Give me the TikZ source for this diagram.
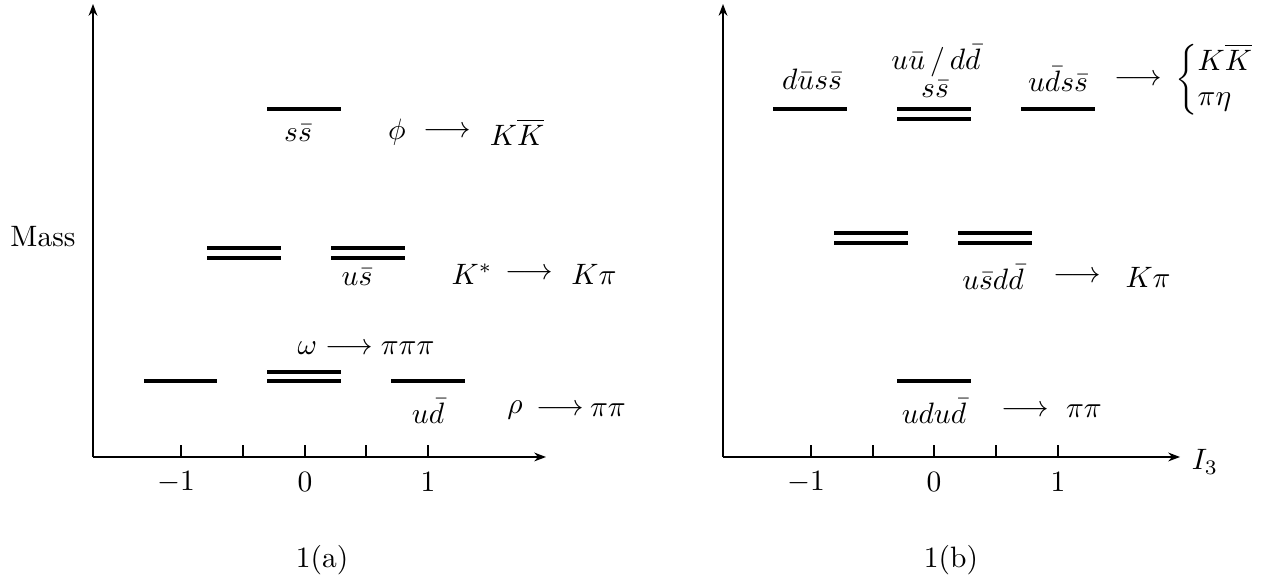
\documentclass[tikz,border=0pt]{standalone}
\usetikzlibrary{arrows.meta}
\begin{document}
\begin{tikzpicture}[x=0.339pt,y=-0.339pt,
  axis/.style={line width=0.5pt,-{Stealth[length=4pt,width=3pt]}},
  tickmark/.style={line width=0.4pt},
  level/.style={line width=1.3pt},
  lbl/.style={inner sep=0pt}]
\path[use as bounding box] (0,0) rectangle (1268,577);
% ---------- panel (a) ----------
\coordinate (oa) at (93,457);
\coordinate (ya) at (93,4);
\coordinate (xa) at (546,457);
\draw[axis] (oa) -- (ya);
\draw[axis] (oa) -- (xa);
\foreach \x in {181,243,305,366,428} \draw[tickmark] (\x,457) -- (\x,445);
\node[lbl] (ta1) at (176,482) {$-1$};
\node[lbl] (ta2) at (305,482) {$0$};
\node[lbl] (ta3) at (428,482) {$1$};
\node[lbl] (mass) at (43,237) {Mass};
\node[lbl] (capa) at (322,560) {1(a)};
% levels
\draw[level] (267,109) -- (341,109);
\foreach \y in {248,258} {\draw[level] (207,\y) -- (281,\y); \draw[level] (331,\y) -- (405,\y);}
\draw[level] (144,381) -- (217,381);
\draw[level] (267,372) -- (341,372);
\draw[level] (267,381) -- (341,381);
\draw[level] (391,381) -- (465,381);
% labels
\node[lbl] (ssa) at (298,133) {$s\bar s$};
\node[lbl] (phi) at (397,132) {$\phi$};
\node[lbl] (arphi) at (447,132) {$\longrightarrow$};
\node[lbl] (kkb) at (517,132) {$K\overline{K}$};
\node[lbl] (usa) at (357,277) {$u\bar s$};
\node[lbl] (kst) at (472,274) {$K^*$};
\node[lbl] (arkst) at (529,274) {$\longrightarrow$};
\node[lbl] (kpia) at (594,274) {$K\pi$};
\node[lbl] (om) at (366,348) {$\omega\longrightarrow\pi\pi\pi$};
\node[lbl] (uda) at (428,411) {$u\bar d$};
\node[lbl] (rho) at (515,410) {$\rho$};
\node[lbl] (arrho) at (560,410) {$\longrightarrow$};
\node[lbl] (pipia) at (608,410) {$\pi\pi$};
% ---------- panel (b) ----------
\coordinate (ob) at (723,457);
\coordinate (yb) at (723,4);
\coordinate (xb) at (1180,457);
\draw[axis] (ob) -- (yb);
\draw[axis] (ob) -- (xb);
\foreach \x in {811,873,934,996,1058} \draw[tickmark] (\x,457) -- (\x,445);
\node[lbl] (tb1) at (806,482) {$-1$};
\node[lbl] (tb2) at (934,482) {$0$};
\node[lbl] (tb3) at (1058,482) {$1$};
\node[lbl] (ithree) at (1205,462) {$I_3$};
\node[lbl] (capb) at (951,560) {1(b)};
% levels
\draw[level] (773,109) -- (847,109);
\draw[level] (897,109) -- (971,109);
\draw[level] (897,119) -- (971,119);
\draw[level] (1021,109) -- (1095,109);
\foreach \y in {233,243} {\draw[level] (834,\y) -- (908,\y); \draw[level] (958,\y) -- (1032,\y);}
\draw[level] (897,381) -- (971,381);
% labels
\node[lbl] (dus) at (812,79) {$d\bar u s\bar s$};
\node[lbl] (uudd) at (936,61) {$u\bar u\,/\,d\bar d$};
\node[lbl] (ssb) at (935,89) {$s\bar s$};
\node[lbl] (uds) at (1058,79) {$u\bar d s\bar s$};
\node[lbl] (arrt) at (1138,80) {$\longrightarrow$};
\node[lbl,anchor=west] (brc) at (1175,80) {$\left\{\begin{array}{@{}l@{}}K\overline{K}\\ \pi\eta\end{array}\right.$};
\node[lbl] (usdd) at (993,277) {$u\bar s d\bar d$};
\node[lbl] (arrm) at (1077,277) {$\longrightarrow$};
\node[lbl] (kpi) at (1148,277) {$K\pi$};
\node[lbl] (udud) at (934,411) {$udu\bar d$};
\node[lbl] (arrb) at (1025,411) {$\longrightarrow$};
\node[lbl] (pipi) at (1084,411) {$\pi\pi$};
\end{tikzpicture}
\end{document}
